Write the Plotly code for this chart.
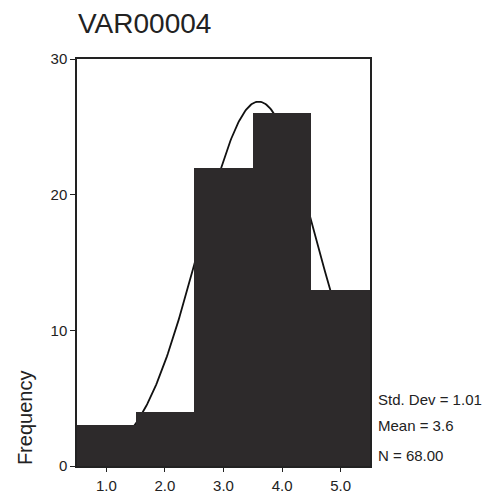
import numpy as np
import plotly.graph_objects as go

# Data
bin_centers = [1.0, 2.0, 3.0, 4.0, 5.0]
frequencies = [3, 4, 22, 26, 13]
x_tick_vals = [1.0, 2.0, 3.0, 4.0, 5.0]
x_tick_text = ["1.0", "2.0", "3.0", "4.0", "5.0"]
y_tick_vals = [0, 10, 20, 30]
y_tick_text = ["0", "10", "20", "30"]
stat_std = 1.01
stat_mean = 3.6
stat_n = 68.00
bin_width = 1.0
title_text = "VAR00004"
y_title = "Frequency"
stat_lines = ["Std. Dev = 1.01", "Mean = 3.6", "N = 68.00"]

# Normal curve implied by the displayed statistics
xs = np.linspace(0.5, 5.5, 301)
ys = stat_n * bin_width / (stat_std * np.sqrt(2 * np.pi)) * np.exp(-0.5 * ((xs - stat_mean) / stat_std) ** 2)

BAR = "#2d2a2b"
FONT = "Liberation Sans, Arial, sans-serif"
TXT = "#222222"

fig = go.Figure()
fig.add_trace(go.Scatter(x=xs, y=ys, mode="lines",
                         line=dict(color="#111111", width=1.8),
                         hoverinfo="skip", showlegend=False,
                         xaxis="x", yaxis="y"))
fig.add_trace(go.Bar(x=bin_centers, y=frequencies, width=bin_width,
                     marker=dict(color=BAR, line=dict(width=0)),
                     showlegend=False, xaxis="x2", yaxis="y2"))

axis_common_x = dict(range=[0.5, 5.5], tickvals=x_tick_vals, ticktext=x_tick_text,
                     ticks="outside", ticklen=4, tickcolor="#222", tickwidth=1,
                     showline=True, linecolor="#222", linewidth=1.5, mirror=True,
                     showgrid=False, zeroline=False, ticklabelstandoff=1,
                     automargin=False,
                     tickfont=dict(family=FONT, size=15, color=TXT))
axis_common_y = dict(range=[0, 30], tickvals=y_tick_vals, ticktext=y_tick_text,
                     ticks="outside", ticklen=5, tickcolor="#222", tickwidth=1,
                     showline=True, linecolor="#222", linewidth=1.5, mirror=True,
                     showgrid=False, zeroline=False, automargin=False,
                     tickfont=dict(family=FONT, size=15, color=TXT))

fig.update_layout(
    width=496, height=494,
    margin=dict(l=77, r=126, t=59, b=28),
    paper_bgcolor="white", plot_bgcolor="white",
    bargap=0,
    xaxis=axis_common_x,
    yaxis=axis_common_y,
    xaxis2=dict(axis_common_x, overlaying="x", showticklabels=False, ticks=""),
    yaxis2=dict(axis_common_y, overlaying="y", showticklabels=False, ticks=""),
)

fig.add_annotation(text=title_text, xref="paper", yref="paper", x=-0.005, y=1.088,
                   xanchor="left", yanchor="middle", showarrow=False,
                   font=dict(family=FONT, size=28, color=TXT))
fig.add_annotation(text=y_title, xref="paper", yref="paper", x=-0.177, y=0.118,
                   xanchor="center", yanchor="middle", textangle=-90, showarrow=False,
                   font=dict(family=FONT, size=20, color=TXT))
for txt, yy in zip(stat_lines, [0.1646, 0.0983, 0.027]):
    fig.add_annotation(text=txt, xref="paper", yref="paper", x=1.0205, y=yy,
                       xanchor="left", yanchor="middle", showarrow=False,
                       font=dict(family=FONT, size=15, color=TXT))

fig.write_html("out.html")
